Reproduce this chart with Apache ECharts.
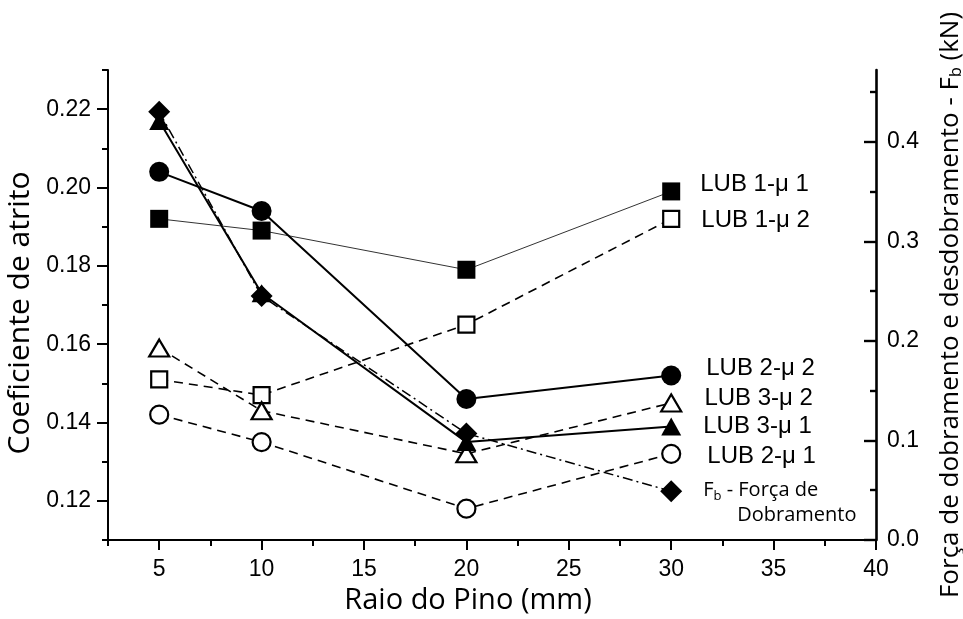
<!DOCTYPE html>
<html>
<head>
<meta charset="utf-8">
<script src="https://cdn.jsdelivr.net/npm/echarts@6/dist/echarts.min.js"></script>
<style>
html,body{margin:0;padding:0;background:#fff;}
#chart{width:963px;height:619px;}
</style>
</head>
<body>
<div id="chart"></div>
<script>
const xValues = [5, 10, 20, 30];
const lub1mu1 = [0.192, 0.189, 0.179, 0.199];
const lub1mu2 = [0.151, 0.147, 0.165, 0.192];
const lub2mu2 = [0.204, 0.194, 0.146, 0.152];
const lub3mu2 = [0.159, 0.143, 0.132, 0.145];
const lub3mu1 = [0.217, 0.173, 0.135, 0.139];
const lub2mu1 = [0.142, 0.135, 0.118, 0.132];
const forcaFb = [0.430, 0.245, 0.107, 0.049];

const xMajorTicks = [5, 10, 15, 20, 25, 30, 35, 40];
const xMinorTicks = [2.5, 7.5, 12.5, 17.5, 22.5, 27.5, 32.5, 37.5];
const yLeftMajor = [0.12, 0.14, 0.16, 0.18, 0.20, 0.22];
const yLeftMinor = [0.11, 0.13, 0.15, 0.17, 0.19, 0.21, 0.23];
const yRightMajor = [0.0, 0.1, 0.2, 0.3, 0.4];
const yRightMinor = [0.05, 0.15, 0.25, 0.35, 0.45];

const names = {
  l11: 'LUB 1-μ 1', l12: 'LUB 1-μ 2', l22: 'LUB 2-μ 2',
  l32: 'LUB 3-μ 2', l31: 'LUB 3-μ 1', l21: 'LUB 2-μ 1',
  fb: 'Fb - Força de Dobramento'
};

const chart = echarts.init(document.getElementById('chart'), null, {renderer: 'canvas'});
const black = '#000';
const sans = "'Liberation Sans', Arial, sans-serif";
const titleFont = "'Open Sans', 'Noto Sans', sans-serif";

function pts(arr) { return xValues.map((x, i) => [x, arr[i]]); }

function withEndLabel(arr, labelOpts) {
  const d = pts(arr);
  const last = d.length - 1;
  d[last] = { value: d[last], label: Object.assign({ show: true, position: 'right', formatter: '{a}', color: black, fontFamily: sans, fontSize: 24 }, labelOpts) };
  return d;
}

function mkSeries(name, arr, opts) {
  return Object.assign({
    name: name,
    type: 'line',
    xAxisIndex: 0,
    yAxisIndex: 0,
    animation: false,
    z: 3,
    label: { show: false }
  }, opts, { data: withEndLabel(arr, opts.endLabel || {}) });
}

const openStyle = { color: '#fff', borderColor: black, borderWidth: 2.2 };
const fillStyle = { color: black, borderColor: black, borderWidth: 0 };

const option = {
  backgroundColor: '#fff',
  animation: false,
  grid: { left: 108, right: 87, top: 70, bottom: 79, containLabel: false, outerBoundsMode: 'none' },
  xAxis: [
    {
      type: 'value', min: 2.5, max: 40, position: 'bottom',
      axisLine: { show: true, onZero: false, lineStyle: { color: black, width: 2 } },
      axisTick: { show: true, customValues: xMajorTicks, length: 10, lineStyle: { color: black, width: 2 } },
      axisLabel: { show: true, customValues: xMajorTicks, color: black, fontFamily: sans, fontSize: 23, margin: 18 },
      splitLine: { show: false },
      name: 'Raio do Pino (mm)', nameLocation: 'middle', nameGap: 44,
      nameTextStyle: { color: black, fontFamily: titleFont, fontSize: 29, padding: [0, 48, 0, 0] }
    },
    {
      type: 'value', min: 2.5, max: 40, position: 'bottom',
      axisLine: { show: false, onZero: false },
      axisTick: { show: true, customValues: xMinorTicks, length: 6, lineStyle: { color: black, width: 2 } },
      axisLabel: { show: false },
      splitLine: { show: false }
    }
  ],
  yAxis: [
    {
      type: 'value', min: 0.11, max: 0.23, position: 'left',
      axisLine: { show: true, onZero: false, lineStyle: { color: black, width: 2 } },
      axisTick: { show: true, customValues: yLeftMajor, length: 11, lineStyle: { color: black, width: 2 } },
      axisLabel: { show: true, customValues: yLeftMajor, color: black, fontFamily: sans, fontSize: 23, margin: 17,
        formatter: v => v.toFixed(2) },
      splitLine: { show: false },
      name: 'Coeficiente de atrito', nameLocation: 'middle', nameGap: 70, nameRotate: 90,
      nameTextStyle: { color: black, fontFamily: titleFont, fontSize: 30, padding: [0, 16, 0, 0] }
    },
    {
      type: 'value', min: 0.11, max: 0.23, position: 'left',
      axisLine: { show: false, onZero: false },
      axisTick: { show: true, customValues: yLeftMinor, length: 6, lineStyle: { color: black, width: 2 } },
      axisLabel: { show: false },
      splitLine: { show: false }
    },
    {
      type: 'value', min: 0, max: 0.472, position: 'right',
      axisLine: { show: true, onZero: false, lineStyle: { color: black, width: 2.6 } },
      axisTick: { show: true, inside: true, customValues: yRightMajor, length: 12, lineStyle: { color: black, width: 2.4 } },
      axisLabel: { show: true, customValues: yRightMajor, color: black, fontFamily: sans, fontSize: 23, margin: 11,
        formatter: v => v.toFixed(1) },
      splitLine: { show: false },
      name: 'Força de dobramento e desdobramento - F{sub|b} (kN)', nameLocation: 'middle', nameGap: 62, nameRotate: 90,
      nameTextStyle: { color: black, fontFamily: titleFont, fontSize: 26,
        rich: { sub: { fontFamily: titleFont, fontSize: 16, verticalAlign: 'bottom', padding: [10, 0, 0, 0], color: black } } }
    },
    {
      type: 'value', min: 0, max: 0.472, position: 'right',
      axisLine: { show: false, onZero: false },
      axisTick: { show: true, inside: true, customValues: yRightMinor, length: 6, lineStyle: { color: black, width: 2.4 } },
      axisLabel: { show: false },
      splitLine: { show: false }
    }
  ],
  series: [
    mkSeries(names.l11, lub1mu1, {
      symbol: 'rect', symbolSize: 18, itemStyle: fillStyle,
      lineStyle: { color: '#333', width: 1, type: 'solid' },
      endLabel: { distance: 20, offset: [0, -7] }
    }),
    mkSeries(names.l12, lub1mu2, {
      symbol: 'rect', symbolSize: 16, itemStyle: openStyle,
      lineStyle: { color: black, width: 1.6, type: [9, 6] },
      endLabel: { distance: 21, offset: [0, 2] }
    }),
    mkSeries(names.l22, lub2mu2, {
      symbol: 'circle', symbolSize: 20, itemStyle: fillStyle,
      lineStyle: { color: black, width: 2, type: 'solid' },
      endLabel: { distance: 25, offset: [0, -7] }
    }),
    mkSeries(names.l32, lub3mu2, {
      symbol: 'triangle', symbolSize: [20, 17], itemStyle: openStyle,
      lineStyle: { color: black, width: 1.6, type: [9, 6] },
      endLabel: { distance: 22, offset: [0, -5] }
    }),
    mkSeries(names.l31, lub3mu1, {
      symbol: 'triangle', symbolSize: [20, 18], itemStyle: fillStyle,
      lineStyle: { color: black, width: 2, type: 'solid' },
      endLabel: { distance: 22, offset: [0, 0] }
    }),
    mkSeries(names.l21, lub2mu1, {
      symbol: 'circle', symbolSize: 18, itemStyle: openStyle,
      lineStyle: { color: black, width: 1.6, type: [9, 6] },
      endLabel: { distance: 26, offset: [0, 3] }
    }),
    mkSeries(names.fb, forcaFb, {
      yAxisIndex: 2,
      symbol: 'diamond', symbolSize: 22, itemStyle: fillStyle,
      lineStyle: { color: black, width: 1.5, type: [10, 4, 2, 4] },
      endLabel: {
        distance: 21, offset: [0, 12], fontFamily: titleFont, fontSize: 20, lineHeight: 25,
        formatter: 'F{sub|b} - Força de\n{ind|}Dobramento',
        rich: {
          sub: { fontFamily: titleFont, fontSize: 13, verticalAlign: 'bottom', padding: [8, 0, 0, 0], color: black },
          ind: { width: 34 }
        }
      }
    })
  ]
};
chart.setOption(option);
</script>
</body>
</html>
